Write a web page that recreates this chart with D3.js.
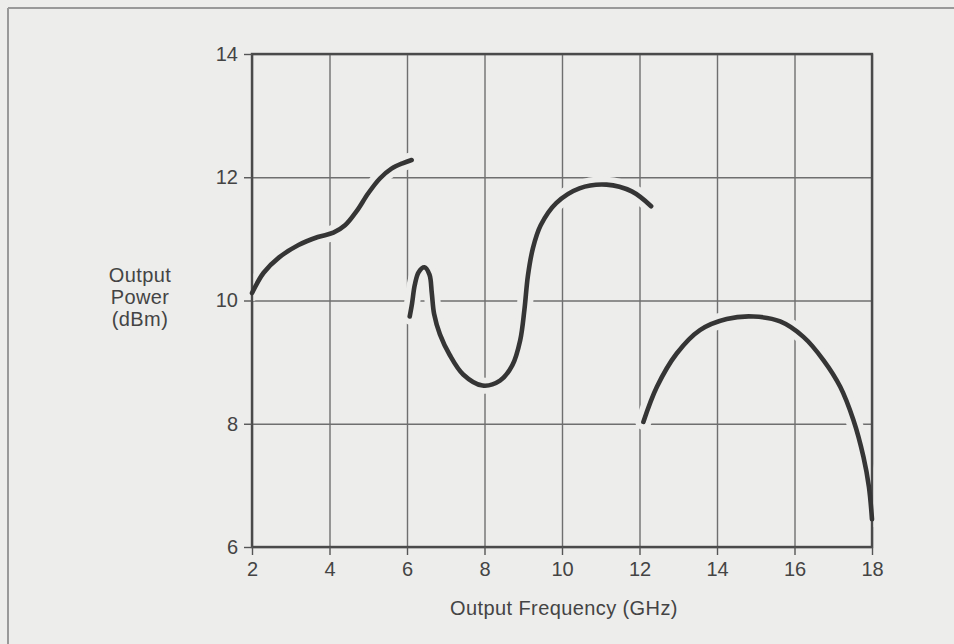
<!DOCTYPE html>
<html>
<head>
<meta charset="utf-8">
<script src="https://cdn.jsdelivr.net/npm/d3@7"></script>
<style>
  html, body { margin: 0; padding: 0; background: #ededeb; }
  svg { display: block; }
  text { font-family: "Liberation Sans", Arial, Helvetica, sans-serif; fill: #444; }
</style>
</head>
<body>
<svg id="chart" width="954" height="644"></svg>
<script>
// Axis ticks
const xTicks = [2, 4, 6, 8, 10, 12, 14, 16, 18];
const yTicks = [6, 8, 10, 12, 14];

// Output power traces (GHz, dBm) — three separate bands
const band1 = [
  [2.0, 10.12], [2.3, 10.45], [2.7, 10.70], [3.2, 10.90], [3.7, 11.03],
  [4.1, 11.10], [4.4, 11.22], [4.7, 11.45], [5.0, 11.74], [5.3, 11.98],
  [5.6, 12.14], [5.9, 12.23], [6.12, 12.28]
];
const band2 = [
  [6.07, 9.74], [6.13, 9.95], [6.2, 10.25], [6.3, 10.46], [6.45, 10.54],
  [6.58, 10.42], [6.64, 10.12], [6.7, 9.78], [6.85, 9.45], [7.1, 9.12],
  [7.45, 8.80], [7.95, 8.62], [8.4, 8.70], [8.72, 8.95], [8.92, 9.35],
  [9.03, 9.85], [9.12, 10.40], [9.25, 10.85], [9.45, 11.22], [9.85, 11.58],
  [10.45, 11.82], [11.15, 11.88], [11.8, 11.77], [12.3, 11.53]
];
const band3 = [
  [12.1, 8.03], [12.45, 8.60], [12.96, 9.14], [13.56, 9.52], [14.25, 9.70],
  [14.94, 9.74], [15.63, 9.66], [16.23, 9.41], [16.75, 9.03], [17.18, 8.60],
  [17.52, 8.06], [17.78, 7.46], [17.92, 6.98], [18.0, 6.45]
];
const bands = [band1, band2, band3];

const bg = "#ededeb";
const svg = d3.select("#chart");

// Page frame lines (top and left)
svg.append("line").attr("x1", 8).attr("x2", 954).attr("y1", 8).attr("y2", 8)
  .attr("stroke", "#999").attr("stroke-width", 2);
svg.append("line").attr("x1", 8).attr("x2", 8).attr("y1", 8).attr("y2", 644)
  .attr("stroke", "#999").attr("stroke-width", 2);

const m = { left: 252, top: 54 };
const w = 620, h = 493;

const x = d3.scaleLinear().domain([2, 18]).range([0, w]);
const y = d3.scaleLinear().domain([6, 14]).range([h, 0]);

const g = svg.append("g").attr("transform", `translate(${m.left},${m.top})`);

// Grid
const grid = g.append("g");
grid.append("g")
  .call(d3.axisBottom(x).tickValues(xTicks).tickSize(h).tickFormat(""))
  .call(s => s.select(".domain").remove())
  .selectAll("line").attr("stroke", "#6f6f6f").attr("stroke-width", 1.4);
grid.append("g")
  .call(d3.axisRight(y).tickValues(yTicks).tickSize(w).tickFormat(""))
  .call(s => s.select(".domain").remove())
  .selectAll("line").attr("stroke", "#6f6f6f").attr("stroke-width", 1.4);

const line = d3.line()
  .x(d => x(d[0]))
  .y(d => y(d[1]))
  .curve(d3.curveCatmullRom.alpha(0.5));

// Clear halo around each trace so grid lines break where they cross
g.append("g").selectAll("path").data(bands).join("path")
  .attr("d", line)
  .attr("fill", "none")
  .attr("stroke", bg)
  .attr("stroke-width", 16)
  .attr("stroke-linecap", "round")
  .attr("stroke-linejoin", "round");

// Plot border
g.append("rect").attr("x", 0).attr("y", 0).attr("width", w).attr("height", h)
  .attr("fill", "none").attr("stroke", "#4a4a4a").attr("stroke-width", 2.4);

// Traces
g.append("g").selectAll("path").data(bands).join("path")
  .attr("d", line)
  .attr("fill", "none")
  .attr("stroke", "#353535")
  .attr("stroke-width", 4.6)
  .attr("stroke-linecap", "round")
  .attr("stroke-linejoin", "round");

// Axes with ticks and labels
const xAxis = g.append("g").attr("transform", `translate(0,${h})`)
  .call(d3.axisBottom(x).tickValues(xTicks).tickSize(8).tickPadding(7).tickFormat(d3.format("d")));
xAxis.select(".domain").remove();
xAxis.selectAll("line").attr("stroke", "#555").attr("stroke-width", 1.4);
xAxis.selectAll("text").style("font-size", "20px").attr("fill", "#444");

const yAxis = g.append("g")
  .call(d3.axisLeft(y).tickValues(yTicks).tickSize(8).tickPadding(6).tickFormat(d3.format("d")));
yAxis.select(".domain").remove();
yAxis.selectAll("line").attr("stroke", "#555").attr("stroke-width", 1.4);
yAxis.selectAll("text").style("font-size", "20px").attr("fill", "#444");

// Axis titles
g.append("text")
  .attr("x", x(10) + 2).attr("y", h + 68)
  .attr("text-anchor", "middle")
  .style("font-size", "20px")
  .style("letter-spacing", "0.4px")
  .text("Output Frequency (GHz)");

const yTitle = g.append("text")
  .attr("text-anchor", "middle")
  .style("font-size", "20px")
  .style("letter-spacing", "0.4px");
["Output", "Power", "(dBm)"].forEach((t, i) => {
  yTitle.append("tspan")
    .attr("x", 140 - m.left)
    .attr("y", 282 - m.top + i * 22)
    .text(t);
});
</script>
</body>
</html>
